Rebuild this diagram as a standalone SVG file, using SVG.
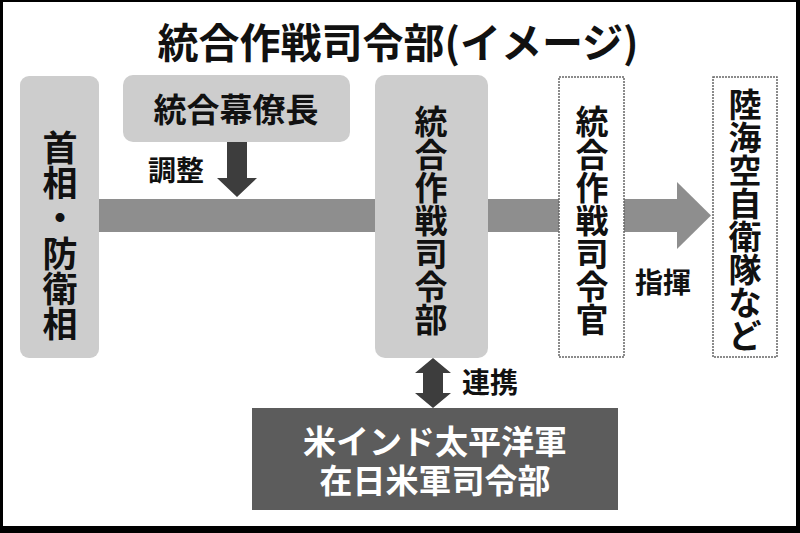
<svg xmlns="http://www.w3.org/2000/svg" width="800" height="533" viewBox="0 0 800 533">
  <style>
    text { font-family: "Noto Sans CJK JP", "Noto Sans CJK SC", sans-serif; fill: #111; }
    .title { font-size: 41px; font-weight: 700; }
    .v { font-size: 33px; font-weight: 700; text-anchor: middle; }
    .lbl { font-size: 28px; font-weight: 700; }
    .box-light { fill: #cdcdcd; }
    .box-open { fill: #fff; stroke: #666; stroke-width: 1.5; stroke-dasharray: 2 1; }
    .band { fill: #8e8e8e; }
    .dark { fill: #3d3d3d; }
    .box-dark { fill: #5c5c5c; }
    .wt { fill: #fff; font-size: 33px; font-weight: 700; text-anchor: middle; }
  </style>

  <!-- frame -->
  <rect x="0" y="0" width="800" height="533" fill="#000"/>
  <rect x="3" y="2" width="793" height="524" fill="#fff"/>

  <text class="title" x="398" y="58" text-anchor="middle">統合作戦司令部(イメージ)</text>

  <!-- connectors -->
  <g id="connectors">
    <!-- main command band with arrowhead -->
    <rect class="band" x="99" y="199" width="580" height="33"/>
    <polygon class="band" points="677,182 711,215.5 677,249"/>
    <!-- coordination arrow from the chief of staff -->
    <polygon class="dark" points="227,142 247,142 247,178 257,178 237,197 217,178 227,178"/>
    <text class="lbl" x="148" y="181">調整</text>
    <!-- cooperation double arrow -->
    <polygon class="dark" points="433,358 451,373 443,373 443,393 451,393 433,408 415,393 423,393 423,373 415,373"/>
    <text class="lbl" x="462" y="393">連携</text>
    <text class="lbl" x="635" y="293">指揮</text>
  </g>

  <g id="node-pm">
    <rect class="box-light" x="20" y="76" width="79" height="282" rx="9"/>
    <text class="v" style="font-size:35px" x="60 60 60 60 60 60" y="161 196 231 267 302 337">首相・防衛相</text>
  </g>

  <g id="node-chief">
    <rect class="box-light" x="123" y="75" width="227" height="67" rx="10"/>
    <text x="236" y="122" text-anchor="middle" style="font-size:33px;font-weight:700">統合幕僚長</text>
  </g>

  <g id="node-hq">
    <rect class="box-light" x="375" y="75" width="113" height="283" rx="10"/>
    <text class="v" x="431 431 431 431 431 431 431" y="134 167 200 233 266 299 332">統合作戦司令部</text>
  </g>

  <g id="node-commander">
    <rect class="box-open" x="559" y="77" width="65" height="280"/>
    <text class="v" x="592 592 592 592 592 592 592" y="134 167 200 233 266 299 332">統合作戦司令官</text>
  </g>

  <g id="node-forces">
    <rect class="box-open" x="713" y="77" width="64" height="280"/>
    <text class="v" x="745 745 745 745 745 745 745 745" y="117 150 183 216 249 282 315 348">陸海空自衛隊など</text>
  </g>

  <g id="node-us">
    <rect class="box-dark" x="252" y="408" width="366" height="102"/>
    <text class="wt"><tspan x="435" y="454">米インド太平洋軍</tspan><tspan x="435" y="493">在日米軍司令部</tspan></text>
  </g>
</svg>
